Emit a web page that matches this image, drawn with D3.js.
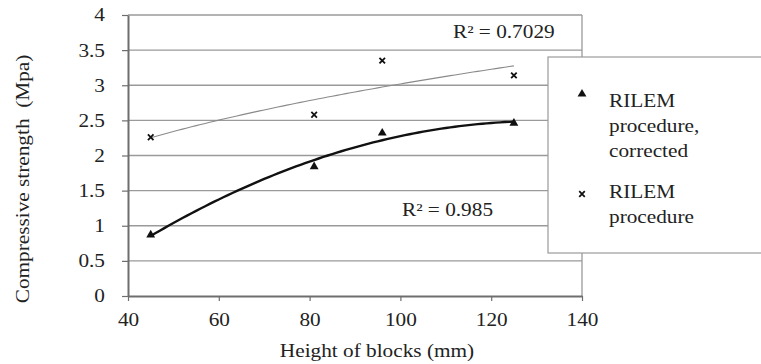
<!DOCTYPE html>
<html>
<head>
<meta charset="utf-8">
<script src="https://cdn.jsdelivr.net/npm/d3@7"></script>
<style>
  body { margin: 0; background: #fff; }
</style>
</head>
<body>
<div id="chart"></div>
<script>
// values
var heights = [45, 81, 96, 125];
var corrected = [0.87, 1.84, 2.32, 2.46];
var procedure = [2.26, 2.58, 3.35, 3.14];
var xTicks = [40, 60, 80, 100, 120, 140];
var yTicks = [0, 0.5, 1, 1.5, 2, 2.5, 3, 3.5, 4];
var legendLines = [["RILEM", "procedure,", "corrected"], ["RILEM", "procedure"]];
var r2Labels = ["R\u00B2 = 0.985", "R\u00B2 = 0.7029"];

var W = 761, H = 364;
var FONT = "'Times New Roman', 'Liberation Serif', 'DejaVu Serif', serif";
var stretch = 1.15; // text in the source is wider than tall
var fs = 18.5;

var svg = d3.select("#chart").append("svg")
  .attr("width", W).attr("height", H);

var x = d3.scaleLinear().domain([40, 140]).range([128, 582]);
var y = d3.scaleLinear().domain([0, 4]).range([296, 15]);

// gridlines
svg.append("g").selectAll("line")
  .data(yTicks.filter(function(d) { return d > 0; }))
  .enter().append("line")
    .attr("x1", x(40)).attr("x2", x(140))
    .attr("y1", function(d) { return y(d); })
    .attr("y2", function(d) { return y(d); })
    .attr("stroke", "#9a9a9a").attr("stroke-width", 1.3);

// right border
svg.append("line")
  .attr("x1", x(140)).attr("x2", x(140))
  .attr("y1", y(4)).attr("y2", y(0))
  .attr("stroke", "#9a9a9a").attr("stroke-width", 1.3);

// axes
var xAxis = svg.append("g")
  .attr("transform", "translate(0," + y(0) + ")")
  .call(d3.axisBottom(x).tickValues(xTicks).tickSize(5).tickPadding(12).tickSizeOuter(0));
var yAxis = svg.append("g")
  .attr("transform", "translate(" + x(40) + ",0)")
  .call(d3.axisLeft(y).tickValues(yTicks).tickSize(6).tickPadding(14).tickSizeOuter(0)
    .tickFormat(function(d) { return String(d); }));

[xAxis, yAxis].forEach(function(a) {
  a.attr("font-family", null).attr("font-size", null);
  a.select(".domain").attr("stroke", "#6e6e6e").attr("stroke-width", 2);
  a.selectAll(".tick line").attr("stroke", "#6e6e6e").attr("stroke-width", 1.2);
  a.selectAll(".tick text")
    .style("font-family", FONT)
    .style("font-size", fs + "px").attr("fill", "#222")
    .attr("transform", "scale(" + stretch + ",1)");
});

// trendlines, fitted to the data
function quadFit(xs, ys) {
  var n = xs.length, s = [0, 0, 0, 0, 0], t = [0, 0, 0];
  for (var i = 0; i < n; i++) {
    for (var k = 0; k < 5; k++) s[k] += Math.pow(xs[i], k);
    for (var k = 0; k < 3; k++) t[k] += ys[i] * Math.pow(xs[i], k);
  }
  var A = [[s[0], s[1], s[2], t[0]], [s[1], s[2], s[3], t[1]], [s[2], s[3], s[4], t[2]]];
  for (var c = 0; c < 3; c++) {
    for (var r = c + 1; r < 3; r++) {
      var f = A[r][c] / A[c][c];
      for (var k = c; k < 4; k++) A[r][k] -= f * A[c][k];
    }
  }
  var b = [0, 0, 0];
  for (var r = 2; r >= 0; r--) {
    var v = A[r][3];
    for (var k = r + 1; k < 3; k++) v -= A[r][k] * b[k];
    b[r] = v / A[r][r];
  }
  return function(v) { return b[0] + b[1] * v + b[2] * v * v; };
}
function powerFit(xs, ys) {
  var lx = xs.map(Math.log), ly = ys.map(Math.log);
  var mx = d3.mean(lx), my = d3.mean(ly);
  var p = d3.sum(lx, function(v, i) { return (v - mx) * (ly[i] - my); }) /
          d3.sum(lx, function(v) { return (v - mx) * (v - mx); });
  var c = Math.exp(my - p * mx);
  return function(v) { return c * Math.pow(v, p); };
}

var fitC = quadFit(heights, corrected);
var fitP = powerFit(heights, procedure);
var xs = d3.range(heights[0], heights[heights.length - 1] + 0.5, 1);

var line = function(fn) {
  return d3.line().x(function(d) { return x(d); }).y(function(d) { return y(fn(d)); });
};

svg.append("path").datum(xs)
  .attr("fill", "none").attr("stroke", "#8a8a8a").attr("stroke-width", 1.1)
  .attr("d", line(fitP));
svg.append("path").datum(xs)
  .attr("fill", "none").attr("stroke", "#111").attr("stroke-width", 2.4)
  .attr("d", line(fitC));

// points
var tri = d3.symbol().type(d3.symbolTriangle).size(34);
var cross = d3.symbol().type(d3.symbolX).size(22);

svg.append("g").selectAll("path")
  .data(heights).enter().append("path")
    .attr("transform", function(d, i) { return "translate(" + x(d) + "," + y(corrected[i]) + ")"; })
    .attr("d", tri).attr("fill", "#111");
svg.append("g").selectAll("path")
  .data(heights).enter().append("path")
    .attr("transform", function(d, i) { return "translate(" + x(d) + "," + y(procedure[i]) + ")"; })
    .attr("d", cross).attr("fill", "none").attr("stroke", "#111").attr("stroke-width", 1.8);

// text helper (source text is a little stretched horizontally)
function label(txt, px, py, anchor, rot) {
  return svg.append("text")
    .attr("transform", "translate(" + px + "," + py + ")" + (rot ? " rotate(" + rot + ")" : "") +
      " scale(" + stretch + ",1)")
    .attr("text-anchor", anchor || "start")
    .style("font-family", FONT)
    .style("font-size", fs + "px")
    .style("white-space", "pre")
    .attr("fill", "#222")
    .text(txt);
}
label(r2Labels[1], 453, 38);
label(r2Labels[0], 402, 216);

// legend
svg.append("rect")
  .attr("x", 548).attr("y", 57).attr("width", 240).attr("height", 196)
  .attr("fill", "#fff").attr("stroke", "#9a9a9a").attr("stroke-width", 1.2);

svg.append("path").attr("transform", "translate(582,94)").attr("d", tri).attr("fill", "#111");
svg.append("path").attr("transform", "translate(582,194)").attr("d", cross)
  .attr("fill", "none").attr("stroke", "#111").attr("stroke-width", 1.8);

var legendTop = [107, 198];
legendLines.forEach(function(lines, i) {
  lines.forEach(function(t, j) {
    label(t, 609, legendTop[i] + j * 25);
  });
});

// axis titles
label("Height of blocks (mm)", 377, 357, "middle");
label("Compressive strength  (Mpa)", 29, 179, "middle", -90);
</script>
</body>
</html>
